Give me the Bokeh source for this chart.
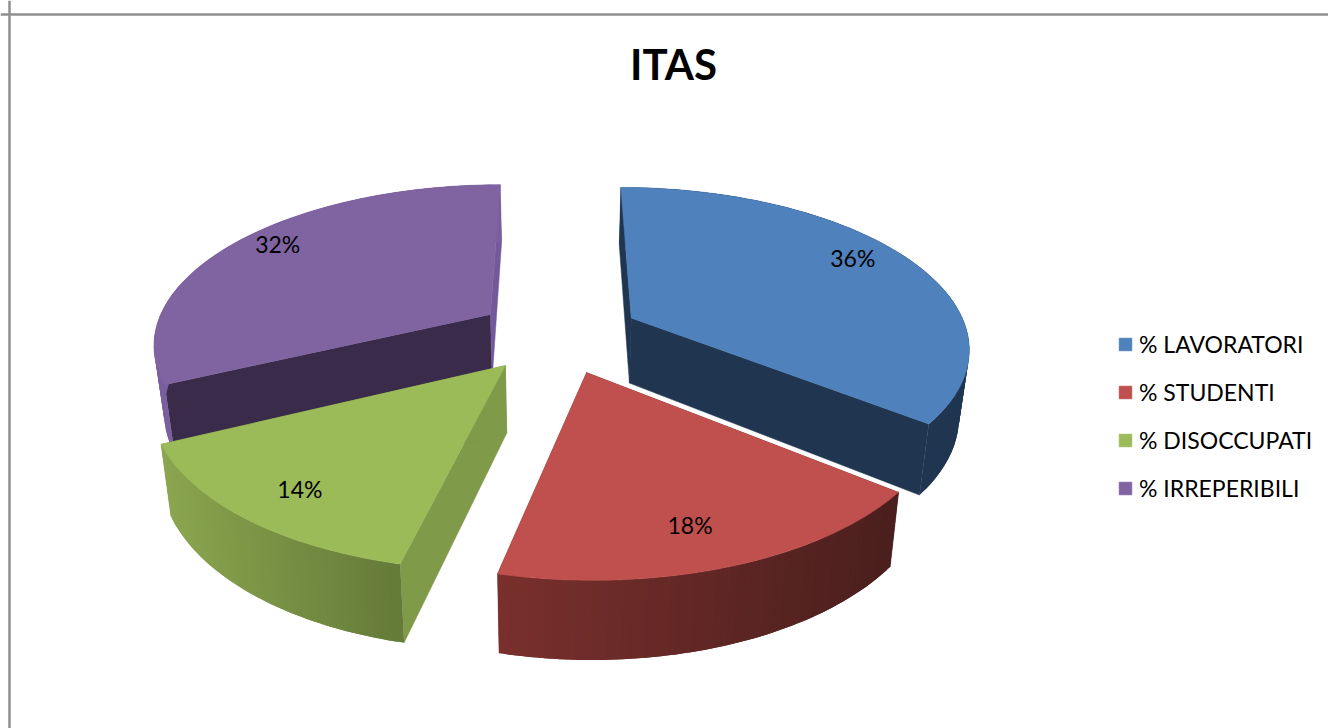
import numpy as np
from bokeh.plotting import figure
from bokeh.models import Range1d, Span, Legend, LegendItem
from bokeh.core.properties import value
from bokeh.embed import file_html
from bokeh.resources import INLINE

title = "ITAS"
categories = ["% LAVORATORI", "% STUDENTI", "% DISOCCUPATI", "% IRREPERIBILI"]
shares = [35.7, 17.9, 14.3, 32.1]

top_colors = ["#4f81bd", "#c0504d", "#9bbb59", "#8064a2"]
radial_start_colors = ["#1f3550", "#4f201e", "#7f9a49", "#3b2b4a"]
radial_end_colors = ["#1f3550", "#7a302d", "#7f9a49", "#73599a"]
wall_left = ["#1f3550", "#7a302d", "#8ba64f", "#7a5f9e"]
wall_right = ["#1f3550", "#4a1f1d", "#647a38", "#7a5f9e"]

W, H = 1328, 728

# camera of the 3-D pie
CX, CY = 558.0, 334.0
F, G, K = 337.0, 158.0, 0.17
DEPTH, SHRINK = 66.0, 0.025
EXPLODE = 0.244
LABEL_R = 0.85
LABEL_NUDGE = [(-13, -7), (-16, -7), (11, -3), (3, -7)]


def project(u, v, bottom=False):
    u, v = np.asarray(u, float), np.asarray(v, float)
    w = 1 + K * v
    s = 1 - SHRINK if bottom else 1.0
    x = CX + s * F * u / w
    y = CY - G * v / w + (DEPTH / w ** 0.8 if bottom else 0.0)
    return x, y


def mix(a, b, t):
    ca = np.array([int(a[i:i + 2], 16) for i in (1, 3, 5)])
    cb = np.array([int(b[i:i + 2], 16) for i in (1, 3, 5)])
    c = (ca + (cb - ca) * t).round().astype(int)
    return "#%02x%02x%02x" % tuple(c)


p = figure(width=W, height=H, x_range=Range1d(0, W), y_range=Range1d(H, 0),
           output_backend="svg", toolbar_location=None, min_border=0,
           outline_line_color=None, background_fill_color="white")
p.grid.visible = False
p.xaxis.visible = False
p.yaxis.visible = False

p.add_layout(Span(location=14, dimension="width", line_color="#8f8f8f", line_width=2.5))
p.add_layout(Span(location=9, dimension="height", line_color="#8f8f8f", line_width=2.5))

fr = np.array(shares, float) / sum(shares)
ends = np.cumsum(fr) * 2 * np.pi
starts = ends - fr * 2 * np.pi

tops = {}
for i in [3, 0, 2, 1]:
    a0, a1 = starts[i], ends[i]
    mid = (a0 + a1) / 2
    ou, ov = EXPLODE * np.sin(mid), EXPLODE * np.cos(mid)
    th = np.linspace(a0, a1, 61)
    au, av = ou + np.sin(th), ov + np.cos(th)

    # radial walls
    for a, col in ((a0, radial_start_colors[i]), (a1, radial_end_colors[i])):
        eu, ev = ou + np.sin(a), ov + np.cos(a)
        xt, yt = project([ou, eu], [ov, ev])
        xb, yb = project([ou, eu], [ov, ev], bottom=True)
        p.patch(list(xt) + list(xb[::-1]), list(yt) + list(yb[::-1]),
                fill_color=col, line_color=col, line_width=0.5)

    # outer wall: overlapping shaded strips painted in order, so no seams show
    xt, yt = project(au, av)
    xb, yb = project(au, av, bottom=True)
    xmin, xmax = xt.min(), xt.max()
    order = range(len(th) - 2) if xt[0] < xt[-1] else range(len(th) - 3, -1, -1)
    for j in order:
        t = (xt[j + 1] - xmin) / (xmax - xmin)
        col = mix(wall_left[i], wall_right[i], t)
        sx = [xt[j], xt[j + 1], xt[j + 2], xb[j + 2], xb[j + 1], xb[j]]
        sy = [yt[j], yt[j + 1], yt[j + 2], yb[j + 2], yb[j + 1], yb[j]]
        p.patch(sx, sy, fill_color=col, line_color=None)

    # top face
    xo, yo = project([ou], [ov])
    tops[i] = p.patch([xo[0]] + list(xt), [yo[0]] + list(yt), fill_color=top_colors[i],
                      line_color=top_colors[i], line_width=0.5)

    if i == 1:  # thin highlight where the red slice meets the blue wall behind it
        xe, ye = project([ou + np.sin(a0)], [ov + np.cos(a0)])
        p.line([xo[0], xe[0]], [yo[0] - 1, ye[0] - 1], line_color="white", line_width=1.2)

for i in range(4):
    mid = (starts[i] + ends[i]) / 2
    ou, ov = (EXPLODE + LABEL_R) * np.sin(mid), (EXPLODE + LABEL_R) * np.cos(mid)
    lx, ly = project([ou], [ov])
    p.text([lx[0] + LABEL_NUDGE[i][0]], [ly[0] + LABEL_NUDGE[i][1]],
           text=[f"{round(shares[i])}%"], text_font=value("Lato"),
           text_font_size="23px", text_color="black", text_align="center",
           text_baseline="middle")

p.text([673], [63], text=[title], text_font=value("Lato"), text_font_style="bold",
       text_font_size="42px", text_color="black", text_align="center", text_baseline="middle")

legend = Legend(items=[LegendItem(label=categories[i], renderers=[tops[i]]) for i in range(4)],
                location=(1117, 226), orientation="vertical", background_fill_alpha=0,
                border_line_color=None, margin=0, padding=0, glyph_width=16, glyph_height=16,
                label_standoff=6, spacing=20, label_height=23,
                label_text_font="Lato", label_text_font_size="23px", label_text_color="black")
p.add_layout(legend)

open("out.html", "w").write(file_html(p, INLINE))
